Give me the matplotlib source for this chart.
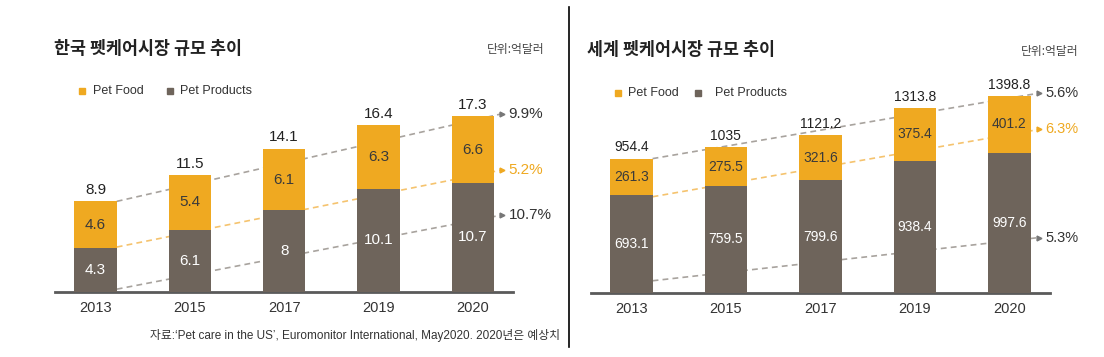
import matplotlib
matplotlib.use("Agg")
import matplotlib.pyplot as plt
from matplotlib.lines import Line2D

plt.rcParams['font.family'] = ['Liberation Sans', 'Noto Sans CJK KR', 'DejaVu Sans']

# data
years = ['2013', '2015', '2017', '2019', '2020']
kr_food = [4.6, 5.4, 6.1, 6.3, 6.6]
kr_products = [4.3, 6.1, 8, 10.1, 10.7]
kr_total = [8.9, 11.5, 14.1, 16.4, 17.3]
kr_growth = ['9.9%', '5.2%', '10.7%']
kr_trend = [(8.9, 16.4), (4.4, 11.0), (0.25, 6.6)]  # start at 2013, end at 2020 (values)

world_food = [261.3, 275.5, 321.6, 375.4, 401.2]
world_products = [693.1, 759.5, 799.6, 938.4, 997.6]
world_total = [954.4, 1035, 1121.2, 1313.8, 1398.8]
world_growth = ['5.6%', '6.3%', '5.3%']
world_trend = [(954.4, 1359), (683, 1099), (85, 352)]

ORANGE = '#EFA921'
GREY = '#6E645B'
DASH_GREY = '#A8A39E'
DASH_ORANGE = '#F5C36E'
W, H = 1104, 357

fig = plt.figure(figsize=(W / 100, H / 100), dpi=100)


def fx(x):
    return x / W


def fy(y):
    return 1 - y / H


def draw_panel(rect, food, products, total, growth, trend, ymax, fs_num, fs_pct):
    ax = fig.add_axes(rect)
    x = list(range(len(years)))
    w = 0.45
    ax.bar(x, products, w, color=GREY, zorder=3)
    ax.bar(x, food, w, bottom=products, color=ORANGE, zorder=3)
    ax.set_xlim(-0.43, 4.43)
    ax.set_ylim(0, ymax)

    for i in x:
        ax.annotate(f'{total[i]:g}', (i, total[i]), xytext=(0, 3), textcoords='offset points',
                    ha='center', va='bottom', fontsize=fs_num, color='#222222')
        ax.text(i, products[i] + food[i] / 2, f'{food[i]:g}', ha='center', va='center',
                fontsize=fs_num, color='#3a3a3a', zorder=4)
        ax.text(i, products[i] / 2, f'{products[i]:g}', ha='center', va='center',
                fontsize=fs_num, color='white', zorder=4)

    # trend lines with growth labels
    x0, x1, xa = w / 2, 4 - w / 2, 4.31
    colors = [DASH_GREY, DASH_ORANGE, DASH_GREY]
    tcolors = ['#333333', ORANGE, '#333333']
    mcolors = ['#777777', ORANGE, '#777777']
    for (a, b), g, c, tc, mc in zip(trend, growth, colors, tcolors, mcolors):
        k = (b - a) / (x1 - x0)
        ya = b + k * (xa - x1)
        ax.plot([x0, xa], [a, ya], ls=(0, (3.5, 2.5)), color=c, lw=1.2, zorder=2, clip_on=False)
        ax.plot([xa], [ya], marker='>', ms=3.5, color=mc, zorder=5, clip_on=False)
        ax.text(xa + 0.07, ya, g, ha='left', va='center', fontsize=fs_pct, color=tc, clip_on=False)

    for s in ['top', 'left', 'right']:
        ax.spines[s].set_visible(False)
    ax.spines['bottom'].set_color('#5a5a5a')
    ax.spines['bottom'].set_linewidth(2)
    ax.set_yticks([])
    ax.set_xticks(x)
    ax.set_xticklabels(years, fontsize=10.5, color='#333333')
    ax.tick_params(axis='x', length=0, pad=7)
    return ax


# left panel: Korea
draw_panel([fx(55), fy(291.7), fx(458.3), 231.7 / H], kr_food, kr_products, kr_total,
           kr_growth, kr_trend, 231.7 / 10.15, 11, 11)
# right panel: world
draw_panel([fx(590.7), fy(292.7), fx(459.3), 232.7 / H], world_food, world_products, world_total,
           world_growth, world_trend, 232.7 / 0.1405, 10, 10.5)

# titles and units
fig.text(fx(54), fy(48.5), '한국 펫케어시장 규모 추이', fontsize=12.5, fontweight='bold',
         family=['Noto Sans CJK KR'], color='#222222', ha='left', va='center')
fig.text(fx(587), fy(50), '세계 펫케어시장 규모 추이', fontsize=12.5, fontweight='bold',
         family=['Noto Sans CJK KR'], color='#222222', ha='left', va='center')
fig.text(fx(544), fy(49.5), '단위:억달러', fontsize=8.5, family=['Noto Sans CJK KR'],
         color='#444444', ha='right', va='center')
fig.text(fx(1079), fy(52), '단위:억달러', fontsize=8.5, family=['Noto Sans CJK KR'],
         color='#444444', ha='right', va='center')

# legends
for sq, tx, y in [((81.7, 170), (92.7, 180), 90.7), ((618.3, 698.3), (628.3, 715), 92.7)]:
    for sx, t, lab, c in zip(sq, tx, ['Pet Food', 'Pet Products'], [ORANGE, GREY]):
        fig.add_artist(Line2D([fx(sx)], [fy(y)], marker='s', ms=4.5, color=c, lw=0))
        fig.text(fx(t), fy(y), lab, fontsize=9, color='#333333', ha='left', va='center')

# source note
fig.text(fx(560), fy(336), '자료:‘Pet care in the US’, Euromonitor International, May2020. 2020년은 예상치',
         fontsize=8.5, color='#333333', ha='right', va='center')

# divider
fig.add_artist(Line2D([fx(568.5), fx(568.5)], [fy(7), fy(347)], color='black', lw=1.2))

fig.savefig('out.png', dpi=100)
